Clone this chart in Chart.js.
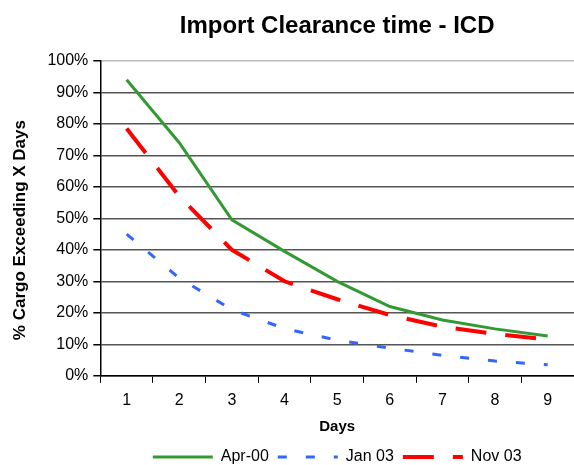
<!DOCTYPE html>
<html>
<head>
<meta charset="utf-8">
<script src="https://cdn.jsdelivr.net/npm/chart.js@4"></script>
<style>
  html, body { margin: 0; padding: 0; background: #fff; }
  #wrap { width: 574px; height: 465px; }
</style>
</head>
<body>
<div id="wrap"><canvas id="clearanceChart" width="574" height="465"></canvas></div>
<script>
var days = ["1", "2", "3", "4", "5", "6", "7", "8", "9"];
var apr00 = [94, 74, 49.5, 39.5, 30, 22, 17.7, 14.9, 12.6];
var jan03 = [45, 31, 21, 15, 11.3, 8.8, 6.5, 4.7, 3.5];
var nov03 = [78.5, 57, 40, 30, 24.3, 19.3, 15.6, 13.3, 11.5];

var ctx = document.getElementById("clearanceChart").getContext('2d');
Chart.defaults.font.family = "'Liberation Sans', Arial, sans-serif";
Chart.defaults.color = "#000";

var myLineChart = new Chart(ctx, {
    type: 'line',
    data: {
        labels: days,
        datasets: [{
            label: "Apr-00",
            data: apr00,
            borderColor: "#339933",
            backgroundColor: "#339933",
            borderWidth: 3,
            pointRadius: 0,
            tension: 0
        }, {
            label: "Jan 03",
            data: jan03,
            borderColor: "#3366FF",
            backgroundColor: "#3366FF",
            borderWidth: 3,
            borderDash: [9, 19],
            pointRadius: 0,
            tension: 0
        }, {
            label: "Nov 03",
            data: nov03,
            borderColor: "#FF0000",
            backgroundColor: "#FF0000",
            borderWidth: 4,
            borderDash: [31, 19],
            pointRadius: 0,
            tension: 0
        }]
    },
    options: {
        responsive: false,
        animation: false,
        layout: { padding: { left: 10, right: 0, top: 12, bottom: -10 } },
        plugins: {
            title: {
                display: true,
                text: "Import Clearance time - ICD",
                fullSize: false,
                font: { size: 24, weight: 'bold' },
                color: "#000",
                padding: { top: 0, bottom: 20 }
            },
            legend: {
                position: 'bottom',
                fullSize: false,
                labels: {
                    usePointStyle: true,
                    pointStyle: 'line',
                    pointStyleWidth: 60,
                    font: { size: 16 },
                    color: "#000",
                    padding: 9,
                    // point-style legend items lose the dataset dash, put it back
                    generateLabels: function (chart) {
                        var items = Chart.defaults.plugins.legend.labels.generateLabels(chart);
                        items.forEach(function (item) {
                            var ds = chart.data.datasets[item.datasetIndex];
                            item.lineDash = ds.borderDash || [];
                            item.lineWidth = ds.borderWidth;
                            item.strokeStyle = ds.borderColor;
                        });
                        return items;
                    }
                }
            },
            tooltip: { enabled: false }
        },
        scales: {
            x: {
                offset: true,
                grid: {
                    offset: true,
                    drawOnChartArea: false,
                    color: "#000",
                    tickLength: 7
                },
                border: { color: "#000", width: 1.5 },
                ticks: { font: { size: 16 }, color: "#000", padding: 8 },
                title: {
                    display: true,
                    text: "Days",
                    font: { size: 15, weight: 'bold' },
                    color: "#000",
                    padding: { top: 0, bottom: 4 }
                }
            },
            y: {
                min: 0,
                max: 100,
                ticks: {
                    stepSize: 10,
                    font: { size: 16 },
                    color: "#000",
                    padding: 5,
                    callback: function (v) { return v + "%"; }
                },
                grid: {
                    color: function (c) { return c.tick && c.tick.value === 100 ? "#bbb" : "#555"; },
                    lineWidth: 1.5,
                    tickColor: "#000",
                    tickLength: 7
                },
                border: { color: "#000", width: 1.5 },
                title: {
                    display: true,
                    text: "% Cargo Exceeding X Days     ",
                    font: { size: 17, weight: 'bold' },
                    color: "#000",
                    padding: { top: 0, bottom: 12 }
                }
            }
        }
    }
});
</script>
</body>
</html>
